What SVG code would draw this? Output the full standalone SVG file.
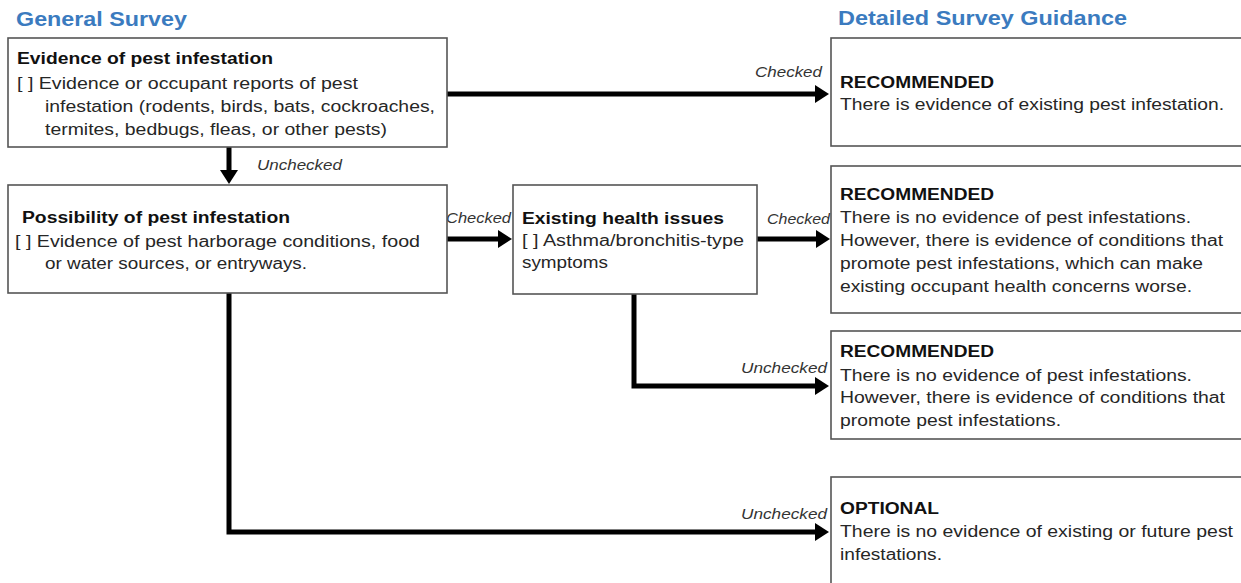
<svg xmlns="http://www.w3.org/2000/svg" width="1241" height="583" viewBox="0 0 1241 583">
<style>
text{font-family:"Liberation Sans",Arial,sans-serif;font-size:16px;fill:#262626}
.b{font-weight:bold;fill:#111}
.h{font-size:20px;font-weight:bold;fill:#3b7bbf}
.lab{font-style:italic;font-size:15px;fill:#333}
.box{fill:#fff;stroke:#555;stroke-width:1.6}
.conn{stroke:#000;stroke-width:5;fill:none;stroke-linejoin:miter}
</style>
<defs>
<marker id="ah" markerUnits="userSpaceOnUse" markerWidth="14" markerHeight="18" refX="8" refY="9" orient="auto">
<path d="M0,0 L14,9 L0,18 z" fill="#000"/>
</marker>
</defs>
<rect width="1241" height="583" fill="#fff"/>
<text class="h" x="16" y="26" textLength="171" lengthAdjust="spacingAndGlyphs">General Survey</text>
<text class="h" x="838" y="25" textLength="289" lengthAdjust="spacingAndGlyphs">Detailed Survey Guidance</text>

<g id="connectors">
<line class="conn" x1="447" y1="94" x2="823" y2="94" marker-end="url(#ah)"/>
<line class="conn" x1="229" y1="147" x2="229" y2="178" marker-end="url(#ah)"/>
<line class="conn" x1="447" y1="239" x2="506" y2="239" marker-end="url(#ah)"/>
<line class="conn" x1="757" y1="239" x2="824" y2="239" marker-end="url(#ah)"/>
<path class="conn" d="M634,294 V386 H823" marker-end="url(#ah)"/>
<path class="conn" d="M229,293 V532 H823" marker-end="url(#ah)"/>
<text class="lab" x="755" y="77" textLength="67" lengthAdjust="spacingAndGlyphs">Checked</text>
<text class="lab" x="257" y="170" textLength="85" lengthAdjust="spacingAndGlyphs">Unchecked</text>
<text class="lab" x="446" y="223" textLength="65" lengthAdjust="spacingAndGlyphs">Checked</text>
<text class="lab" x="767" y="224" textLength="63" lengthAdjust="spacingAndGlyphs">Checked</text>
<text class="lab" x="741" y="373" textLength="86" lengthAdjust="spacingAndGlyphs">Unchecked</text>
<text class="lab" x="741" y="519" textLength="86" lengthAdjust="spacingAndGlyphs">Unchecked</text>
</g>

<g id="evidence">
<rect class="box" x="8" y="38" width="439" height="109"/>
<text class="b" x="17" y="64" textLength="256" lengthAdjust="spacingAndGlyphs">Evidence of pest infestation</text>
<text x="17" y="89" textLength="341" lengthAdjust="spacingAndGlyphs">[ ] Evidence or occupant reports of pest</text>
<text x="45" y="112" textLength="390" lengthAdjust="spacingAndGlyphs">infestation (rodents, birds, bats, cockroaches,</text>
<text x="45" y="135" textLength="342" lengthAdjust="spacingAndGlyphs">termites, bedbugs, fleas, or other pests)</text>
</g>

<g id="possibility">
<rect class="box" x="8" y="185" width="439" height="108"/>
<text class="b" x="22" y="223" textLength="268" lengthAdjust="spacingAndGlyphs">Possibility of pest infestation</text>
<text x="15" y="247" textLength="405" lengthAdjust="spacingAndGlyphs">[ ] Evidence of pest harborage conditions, food</text>
<text x="45" y="269" textLength="262" lengthAdjust="spacingAndGlyphs">or water sources, or entryways.</text>
</g>

<g id="health">
<rect class="box" x="513" y="185" width="244" height="109"/>
<text class="b" x="522" y="224" textLength="202" lengthAdjust="spacingAndGlyphs">Existing health issues</text>
<text x="522" y="246" textLength="222" lengthAdjust="spacingAndGlyphs">[ ] Asthma/bronchitis-type</text>
<text x="522" y="268" textLength="86" lengthAdjust="spacingAndGlyphs">symptoms</text>
</g>

<g id="rec1">
<rect class="box" x="831" y="38" width="430" height="108"/>
<text class="b" x="840" y="88" textLength="154" lengthAdjust="spacingAndGlyphs">RECOMMENDED</text>
<text x="840" y="110" textLength="384" lengthAdjust="spacingAndGlyphs">There is evidence of existing pest infestation.</text>
</g>

<g id="rec2">
<rect class="box" x="831" y="166" width="430" height="147"/>
<text class="b" x="840" y="200" textLength="154" lengthAdjust="spacingAndGlyphs">RECOMMENDED</text>
<text x="840" y="223" textLength="351" lengthAdjust="spacingAndGlyphs">There is no evidence of pest infestations.</text>
<text x="840" y="246" textLength="383" lengthAdjust="spacingAndGlyphs">However, there is evidence of conditions that</text>
<text x="840" y="269" textLength="363" lengthAdjust="spacingAndGlyphs">promote pest infestations, which can make</text>
<text x="840" y="292" textLength="352" lengthAdjust="spacingAndGlyphs">existing occupant health concerns worse.</text>
</g>

<g id="rec3">
<rect class="box" x="831" y="331" width="430" height="108"/>
<text class="b" x="840" y="357" textLength="154" lengthAdjust="spacingAndGlyphs">RECOMMENDED</text>
<text x="840" y="381" textLength="352" lengthAdjust="spacingAndGlyphs">There is no evidence of pest infestations.</text>
<text x="840" y="403" textLength="385" lengthAdjust="spacingAndGlyphs">However, there is evidence of conditions that</text>
<text x="840" y="426" textLength="221" lengthAdjust="spacingAndGlyphs">promote pest infestations.</text>
</g>

<g id="optional">
<rect class="box" x="831" y="477" width="430" height="130"/>
<text class="b" x="840" y="514" textLength="99" lengthAdjust="spacingAndGlyphs">OPTIONAL</text>
<text x="840" y="537" textLength="393" lengthAdjust="spacingAndGlyphs">There is no evidence of existing or future pest</text>
<text x="840" y="560" textLength="102" lengthAdjust="spacingAndGlyphs">infestations.</text>
</g>
</svg>
